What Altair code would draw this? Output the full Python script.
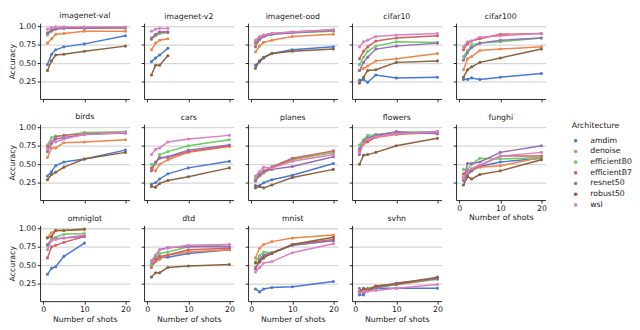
import altair as alt
import pandas as pd

SHOTS = [1, 2, 3, 5, 10, 20]
ARCHS = ["amdim", "denoise", "efficientB0", "efficientB7", "resnet50", "robust50", "wsl"]
COLORS = ["#4878d0", "#ee854a", "#6acc64", "#d65f5f", "#956cb4", "#8c613c", "#dc7ec0"]
DATASETS = ["imagenet-val", "imagenet-v2", "imagenet-ood", "cifar10", "cifar100",
            "birds", "cars", "planes", "flowers", "funghi",
            "omniglot", "dtd", "mnist", "svhn"]

imagenet_val = {
    "amdim": [0.48, 0.62, 0.68, 0.72, 0.76, 0.87],
    "denoise": [0.77, 0.83, 0.89, 0.90, 0.93, 0.93],
    "efficientB0": [0.88, 0.93, 0.96, 0.97, 0.97, 0.97],
    "efficientB7": [0.91, 0.95, 0.97, 0.98, 0.98, 0.98],
    "resnet50": [0.90, 0.94, 0.96, 0.97, 0.97, 0.98],
    "robust50": [0.40, 0.53, 0.61, 0.62, 0.66, 0.73],
    "wsl": [0.96, 0.98, 0.99, 0.99, 0.99, 0.99],
}
imagenet_v2 = {
    "amdim": [0.52, 0.57, 0.61, 0.70],
    "denoise": [0.68, 0.77, 0.81, 0.83],
    "efficientB0": [0.82, 0.87, 0.90, 0.91],
    "efficientB7": [0.84, 0.89, 0.92, 0.92],
    "resnet50": [0.83, 0.88, 0.92, 0.92],
    "robust50": [0.34, 0.47, 0.47, 0.60],
    "wsl": [0.93, 0.96, 0.97, 0.97],
}
imagenet_ood = {
    "amdim": [0.47, 0.52, 0.57, 0.63, 0.68, 0.72],
    "denoise": [0.65, 0.73, 0.78, 0.81, 0.86, 0.89],
    "efficientB0": [0.75, 0.83, 0.86, 0.89, 0.91, 0.93],
    "efficientB7": [0.78, 0.85, 0.88, 0.90, 0.92, 0.95],
    "resnet50": [0.72, 0.82, 0.86, 0.89, 0.91, 0.94],
    "robust50": [0.43, 0.53, 0.58, 0.63, 0.66, 0.69],
    "wsl": [0.81, 0.86, 0.88, 0.90, 0.92, 0.95],
}
cifar10 = {
    "amdim": [0.27, 0.28, 0.24, 0.34, 0.30, 0.31],
    "denoise": [0.40, 0.43, 0.46, 0.53, 0.56, 0.63],
    "efficientB0": [0.48, 0.58, 0.66, 0.73, 0.79, 0.78],
    "efficientB7": [0.56, 0.66, 0.72, 0.80, 0.84, 0.87],
    "resnet50": [0.40, 0.51, 0.58, 0.69, 0.73, 0.77],
    "robust50": [0.23, 0.31, 0.40, 0.41, 0.51, 0.53],
    "wsl": [0.72, 0.79, 0.81, 0.86, 0.88, 0.90],
}
cifar100 = {
    "amdim": [0.28, 0.28, 0.30, 0.28, 0.31, 0.36],
    "denoise": [0.41, 0.56, 0.59, 0.67, 0.69, 0.72],
    "efficientB0": [0.59, 0.67, 0.75, 0.77, 0.79, 0.84],
    "efficientB7": [0.68, 0.76, 0.80, 0.83, 0.89, 0.90],
    "resnet50": [0.54, 0.64, 0.71, 0.77, 0.81, 0.84],
    "robust50": [0.31, 0.41, 0.45, 0.51, 0.57, 0.69],
    "wsl": [0.72, 0.79, 0.80, 0.85, 0.87, 0.90],
}
birds = {
    "amdim": [0.34, 0.40, 0.48, 0.53, 0.57, 0.69],
    "denoise": [0.59, 0.72, 0.72, 0.79, 0.80, 0.83],
    "efficientB0": [0.76, 0.86, 0.88, 0.89, 0.93, 0.94],
    "efficientB7": [0.74, 0.80, 0.87, 0.89, 0.91, 0.93],
    "resnet50": [0.67, 0.78, 0.84, 0.86, 0.90, 0.92],
    "robust50": [0.29, 0.36, 0.39, 0.46, 0.57, 0.66],
    "wsl": [0.71, 0.81, 0.80, 0.84, 0.90, 0.93],
}
cars = {
    "amdim": [0.23, 0.25, 0.30, 0.37, 0.45, 0.54],
    "denoise": [0.44, 0.41, 0.50, 0.56, 0.66, 0.74],
    "efficientB0": [0.50, 0.50, 0.63, 0.67, 0.75, 0.83],
    "efficientB7": [0.45, 0.52, 0.59, 0.59, 0.67, 0.75],
    "resnet50": [0.41, 0.53, 0.58, 0.60, 0.69, 0.76],
    "robust50": [0.20, 0.19, 0.24, 0.28, 0.33, 0.45],
    "wsl": [0.63, 0.70, 0.72, 0.80, 0.84, 0.89],
}
planes = {
    "amdim": [0.21, 0.21, 0.25, 0.29, 0.35, 0.51],
    "denoise": [0.28, 0.34, 0.38, 0.45, 0.56, 0.66],
    "efficientB0": [0.31, 0.37, 0.40, 0.47, 0.57, 0.66],
    "efficientB7": [0.27, 0.36, 0.41, 0.46, 0.58, 0.68],
    "resnet50": [0.28, 0.35, 0.40, 0.43, 0.47, 0.60],
    "robust50": [0.18, 0.20, 0.18, 0.22, 0.32, 0.43],
    "wsl": [0.34, 0.40, 0.46, 0.45, 0.54, 0.63],
}
flowers = {
    "amdim": [0.71, 0.80, 0.84, 0.90, 0.93, 0.93],
    "denoise": [0.69, 0.77, 0.81, 0.86, 0.90, 0.93],
    "efficientB0": [0.76, 0.83, 0.89, 0.90, 0.93, 0.94],
    "efficientB7": [0.67, 0.80, 0.80, 0.88, 0.91, 0.94],
    "resnet50": [0.63, 0.81, 0.86, 0.89, 0.94, 0.91],
    "robust50": [0.50, 0.62, 0.63, 0.66, 0.75, 0.85],
    "wsl": [0.66, 0.79, 0.84, 0.87, 0.91, 0.94],
}
funghi = {
    "amdim": [0.28, 0.36, 0.41, 0.47, 0.53, 0.58],
    "denoise": [0.33, 0.38, 0.43, 0.46, 0.48, 0.59],
    "efficientB0": [0.43, 0.43, 0.50, 0.58, 0.57, 0.59],
    "efficientB7": [0.37, 0.41, 0.43, 0.48, 0.61, 0.61],
    "resnet50": [0.29, 0.51, 0.51, 0.53, 0.66, 0.75],
    "robust50": [0.22, 0.33, 0.30, 0.36, 0.41, 0.56],
    "wsl": [0.31, 0.40, 0.44, 0.49, 0.61, 0.66],
}
omniglot = {
    "amdim": [0.38, 0.46, 0.48, 0.62, 0.80],
    "denoise": [0.88, 0.94, 0.97, 0.97, 0.98],
    "efficientB0": [0.76, 0.86, 0.88, 0.92, 0.93],
    "efficientB7": [0.60, 0.75, 0.77, 0.81, 0.89],
    "resnet50": [0.78, 0.84, 0.86, 0.87, 0.89],
    "robust50": [0.87, 0.89, 0.97, 0.97, 0.99],
    "wsl": [0.71, 0.84, 0.85, 0.87, 0.91],
}
dtd = {
    "amdim": [0.51, 0.55, 0.61, 0.61, 0.66, 0.71],
    "denoise": [0.48, 0.55, 0.58, 0.64, 0.68, 0.71],
    "efficientB0": [0.50, 0.60, 0.66, 0.68, 0.75, 0.78],
    "efficientB7": [0.47, 0.58, 0.62, 0.64, 0.71, 0.73],
    "resnet50": [0.56, 0.63, 0.71, 0.74, 0.75, 0.75],
    "robust50": [0.34, 0.40, 0.40, 0.47, 0.49, 0.51],
    "wsl": [0.55, 0.64, 0.71, 0.73, 0.77, 0.78],
}
mnist = {
    "amdim": [0.18, 0.14, 0.18, 0.20, 0.21, 0.28],
    "denoise": [0.60, 0.73, 0.78, 0.82, 0.87, 0.91],
    "efficientB0": [0.55, 0.63, 0.68, 0.67, 0.77, 0.84],
    "efficientB7": [0.47, 0.54, 0.62, 0.66, 0.78, 0.85],
    "resnet50": [0.45, 0.58, 0.64, 0.67, 0.77, 0.83],
    "robust50": [0.53, 0.55, 0.60, 0.66, 0.78, 0.88],
    "wsl": [0.41, 0.47, 0.53, 0.55, 0.67, 0.79],
}
svhn = {
    "amdim": [0.10, 0.10, 0.19, 0.19, 0.19, 0.19],
    "denoise": [0.14, 0.16, 0.18, 0.22, 0.24, 0.32],
    "efficientB0": [0.13, 0.15, 0.19, 0.19, 0.24, 0.31],
    "efficientB7": [0.15, 0.18, 0.18, 0.21, 0.24, 0.32],
    "resnet50": [0.19, 0.13, 0.16, 0.19, 0.26, 0.32],
    "robust50": [0.13, 0.19, 0.16, 0.22, 0.25, 0.34],
    "wsl": [0.13, 0.15, 0.15, 0.16, 0.19, 0.24],
}

TABLES = [imagenet_val, imagenet_v2, imagenet_ood, cifar10, cifar100,
          birds, cars, planes, flowers, funghi,
          omniglot, dtd, mnist, svhn]

records = []
for name, table in zip(DATASETS, TABLES):
    for arch in ARCHS:
        for shot, acc in zip(SHOTS, table[arch]):
            records.append({"dataset": name, "Architecture": arch,
                            "shots": shot, "acc": acc})
df = pd.DataFrame(records)

FONT = "DejaVu Sans"
FS = 8
W, H = 92, 78
BOTTOM = {"omniglot", "dtd", "mnist", "svhn", "funghi"}
AXC = "#262626"


def panel(idx, name):
    col = idx % 5
    bottom = name in BOTTOM
    xaxis = alt.Axis(values=[0, 10, 20], labels=bottom, grid=False,
                     title="Number of shots" if bottom else None,
                     domainColor=AXC, tickColor=AXC, tickSize=3,
                     labelPadding=1.5, titlePadding=2)
    yaxis = alt.Axis(values=[0.25, 0.5, 0.75, 1.0], format=".2f",
                     labels=(col == 0), grid=True, gridColor="#d6d6d6",
                     gridWidth=1.3,
                     title="Accuracy" if col == 0 else None,
                     domainColor=AXC, tickColor=AXC, tickSize=3,
                     labelPadding=1.5, titlePadding=2)
    base = alt.Chart(df[df.dataset == name]).encode(
        x=alt.X("shots:Q", scale=alt.Scale(domain=[-0.8, 21.0], nice=False, zero=False),
                axis=xaxis),
        y=alt.Y("acc:Q", scale=alt.Scale(domain=[0.015, 1.04], nice=False, zero=False),
                axis=yaxis),
        color=alt.Color("Architecture:N",
                        scale=alt.Scale(domain=ARCHS, range=COLORS),
                        legend=alt.Legend(orient="none", legendX=547, legendY=102,
                                          title="Architecture", symbolType="circle",
                                          symbolSize=14, symbolStrokeWidth=0,
                                          labelOffset=11, rowPadding=3,
                                          titlePadding=7)),
        detail="Architecture:N",
    )
    lines = base.mark_line(strokeWidth=1.5)
    pts = base.mark_point(filled=True, size=10, opacity=1)
    return alt.layer(lines, pts).properties(
        width=W, height=H,
        title=alt.TitleParams(name, fontSize=FS, font=FONT, fontWeight="normal",
                              offset=2, anchor="middle", color="#1a1a1a"))


charts = [panel(i, n) for i, n in enumerate(DATASETS)]
chart = alt.concat(*charts, columns=5, spacing={"row": 26, "column": 15},
                   bounds="flush").properties(
    padding=0
).configure_view(stroke=None).configure_axis(
    labelFont=FONT, titleFont=FONT, labelFontSize=FS, titleFontSize=FS,
    titleFontWeight="normal", labelColor="#1a1a1a", titleColor="#1a1a1a",
    domainWidth=1, tickWidth=1
).configure_legend(
    labelFont=FONT, titleFont=FONT, labelFontSize=FS, titleFontSize=FS,
    titleFontWeight="normal", labelColor="#1a1a1a", titleColor="#1a1a1a"
)

chart.save("out.html", embed_options={"renderer": "svg", "actions": False})
